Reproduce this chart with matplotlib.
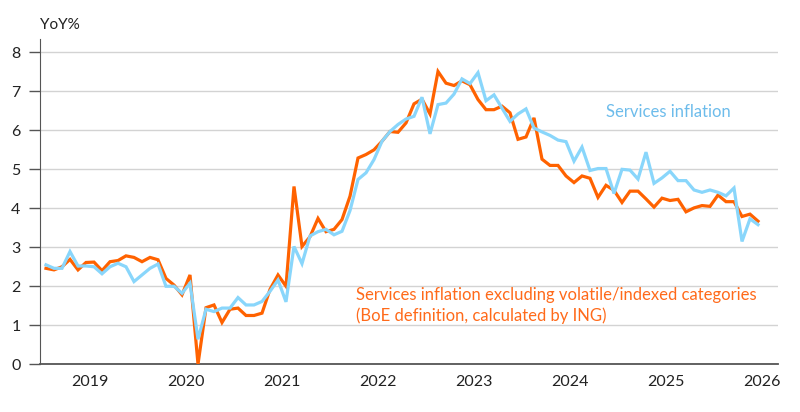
import matplotlib.pyplot as plt
import numpy as np
import pandas as pd

# monthly, Jan 2019 - Jun 2026
months = pd.date_range('2019-01-01', periods=90, freq='MS')

services = [2.55, 2.46, 2.46, 2.89, 2.52, 2.52, 2.50, 2.32, 2.50, 2.59, 2.50, 2.12,
            2.29, 2.46, 2.57, 2.00, 2.00, 1.82, 2.08, 0.64, 1.41, 1.35, 1.44, 1.44,
            1.71, 1.52, 1.52, 1.61, 1.87, 2.16, 1.60, 3.02, 2.58, 3.29, 3.40, 3.46,
            3.32, 3.41, 3.94, 4.74, 4.91, 5.25, 5.72, 5.97, 6.15, 6.29, 6.36, 6.85,
            5.91, 6.66, 6.70, 6.93, 7.32, 7.20, 7.48, 6.76, 6.91, 6.57, 6.23, 6.42,
            6.55, 6.06, 5.96, 5.87, 5.75, 5.71, 5.21, 5.57, 4.97, 5.02, 5.02, 4.38,
            5.00, 4.98, 4.75, 5.44, 4.64, 4.78, 4.95, 4.71, 4.71, 4.47, 4.41, 4.47,
            4.41, 4.32, 4.52, 3.15, 3.73, 3.58]

core_services = [2.46, 2.42, 2.50, 2.69, 2.42, 2.61, 2.62, 2.40, 2.63, 2.66, 2.78, 2.74,
                 2.63, 2.74, 2.68, 2.20, 2.03, 1.78, 2.29, 0.00, 1.45, 1.52, 1.07, 1.41,
                 1.44, 1.25, 1.25, 1.31, 1.92, 2.29, 2.00, 4.56, 3.02, 3.27, 3.74, 3.40,
                 3.46, 3.71, 4.31, 5.29, 5.38, 5.50, 5.72, 5.97, 5.95, 6.19, 6.68, 6.80,
                 6.42, 7.51, 7.21, 7.15, 7.27, 7.17, 6.79, 6.53, 6.53, 6.62, 6.45, 5.77,
                 5.83, 6.32, 5.26, 5.10, 5.10, 4.83, 4.66, 4.83, 4.77, 4.28, 4.59, 4.46,
                 4.15, 4.44, 4.44, 4.24, 4.03, 4.26, 4.20, 4.23, 3.91, 4.01, 4.07, 4.05,
                 4.34, 4.17, 4.17, 3.79, 3.85, 3.67]

years = list(range(2019, 2027))

orange = '#FF6200'
blue = '#89D6FB'

plt.rcParams['font.family'] = ['Lato', 'DejaVu Sans']

fig = plt.figure(figsize=(8, 4.12), dpi=100)
ax = fig.add_axes([0.05, 0.116, 0.9225, 0.789])

x = np.arange(len(months))
ax.plot(x, core_services, color=orange, lw=2.3, solid_joinstyle='miter', zorder=3)
ax.plot(x, services, color=blue, lw=2.3, solid_joinstyle='miter', zorder=4)

ax.set_xlim(-0.75, 91.5)
ax.set_ylim(0, 8.34)
ax.set_yticks(range(0, 9))
ax.yaxis.grid(True, color='#D3D3D3', lw=1)
ax.set_axisbelow(True)

ax.set_xticks([12 * k + 5.5 for k in range(len(years))])
ax.set_xticklabels([str(y) for y in years])
ax.tick_params(axis='x', length=0, pad=8, labelsize=11.5, colors='#222222')
ax.tick_params(axis='y', length=8, width=1, color='#555555', pad=6,
               labelsize=11.5, labelcolor='#222222')

for s in ['top', 'right']:
    ax.spines[s].set_visible(False)
ax.spines['left'].set_color('#555555')
ax.spines['bottom'].set_color('#555555')
ax.spines['bottom'].set_linewidth(1.3)

fig.text(0.05, 0.94, 'YoY%', fontsize=11, color='#222222', va='center', ha='left')
ax.text(70.0, 6.48, 'Services inflation', color='#6DBCEB', fontsize=12,
        va='center', ha='left')
ax.text(38.8, 1.51, 'Services inflation excluding volatile/indexed categories\n'
        '(BoE definition, calculated by ING)', color='#FF6A1A', fontsize=12,
        va='center', ha='left', linespacing=1.3)

fig.savefig('out.png', dpi=100)
